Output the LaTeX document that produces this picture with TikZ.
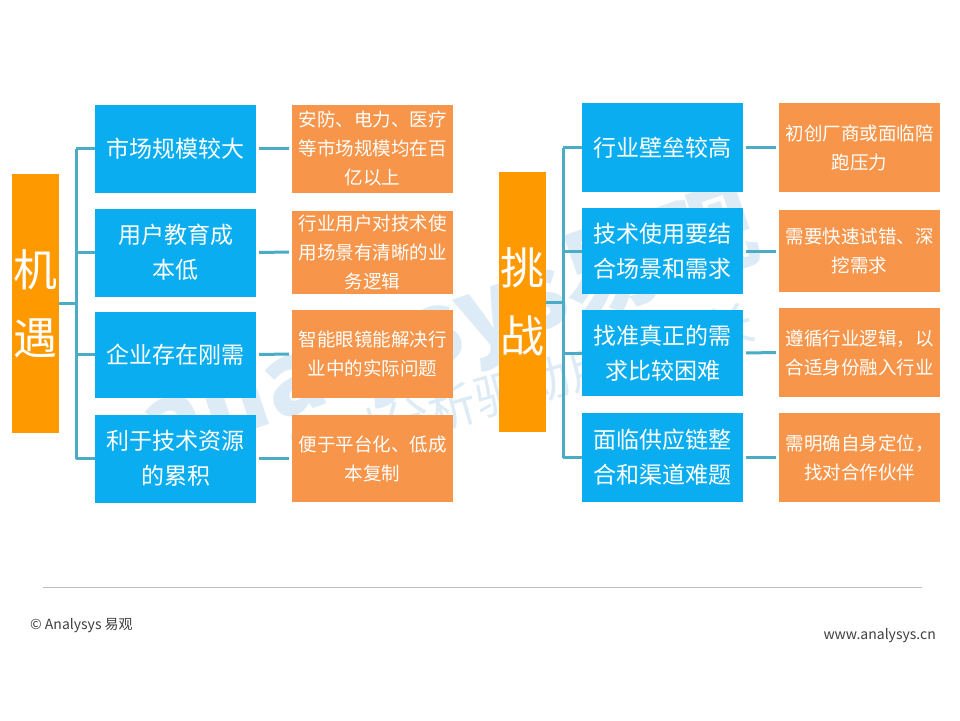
\documentclass[tikz,border=0pt]{standalone}
\usepackage{fontspec}
\newfontfamily\cjk{Noto Sans CJK SC}
\definecolor{cblue}{HTML}{0AAEF0}
\definecolor{corange}{HTML}{F7954A}
\definecolor{ctall}{HTML}{FF9900}
\definecolor{cline}{HTML}{4BACC6}
\definecolor{cwm}{HTML}{DDEBF6}
\definecolor{cfoot}{HTML}{404040}
\tikzset{
  tallbox/.style={fill=ctall, text=white, minimum width=47pt, minimum height=259pt, inner sep=0pt, align=center, font=\cjk\fontsize{44}{68}\selectfont},
  bluebox/.style={fill=cblue, text=white, minimum width=161pt, minimum height=88pt, inner sep=0pt, align=center, font=\cjk\fontsize{23}{35}\selectfont},
  orgbox/.style={fill=corange, text=white, minimum width=161pt, minimum height=88pt, inner sep=0pt, align=center, font=\cjk\fontsize{18.5}{29}\selectfont},
  conn/.style={draw=cline, line width=3pt},
  link/.style={conn, shorten <=3pt, shorten >=3pt},
  wm/.style={text=cwm, inner sep=0pt},
  foot/.style={text=cfoot, inner sep=0pt, font=\cjk\fontsize{14}{16}\selectfont}
}
\begin{document}
\begin{tikzpicture}[x=1pt,y=-1pt]
\fill[white] (0,0) rectangle (960,720);
\useasboundingbox (0,0) rectangle (960,720);
% watermark
\node[wm, rotate=19, font=\cjk\bfseries\fontsize{100}{100}\selectfont] (wm1) at (450,330) {analysys易观};
\node[wm, rotate=16, font=\cjk\fontsize{48}{48}\selectfont] (wm2) at (522,387) {实时分析驱动用户增长};
% left
\node[tallbox] (L) at (35.5,303.5) {机\\遇};
\node[bluebox] (lb1) at (175.5,148.5) {市场规模较大};
\node[bluebox] (lb2) at (175.5,252.5) {用户教育成\\本低};
\node[bluebox, minimum height=86pt] (lb3) at (175.5,354.5) {企业存在刚需};
\node[bluebox] (lb4) at (175.5,458.5) {利于技术资源\\的累积};
\node[orgbox] (lo1) at (372.5,148.5) {安防、电力、医疗\\等市场规模均在百\\亿以上};
\node[orgbox, minimum height=83pt] (lo2) at (372.5,252) {行业用户对技术使\\用场景有清晰的业\\务逻辑};
\node[orgbox] (lo3) at (372.5,354) {智能眼镜能解决行\\业中的实际问题};
\node[orgbox, minimum height=87pt] (lo4) at (372.5,458.5) {便于平台化、低成\\本复制};
\draw[conn] (L.east) -- ++(17,0) coordinate (lj);
\draw[conn] (lj |- lb1.west) -- (lj |- lb4.west);
\foreach \i in {1,...,4} {
  \draw[conn] (lj |- lb\i.west) -- (lb\i.west);
  \draw[link] (lb\i.east) -- (lo\i.west);
}
% right
\node[tallbox, minimum height=260pt] (R) at (522.5,302) {挑\\战};
\node[bluebox, minimum height=89pt] (rb1) at (662.5,147.5) {行业壁垒较高};
\node[bluebox, minimum height=86pt] (rb2) at (662.5,251) {技术使用要结\\合场景和需求};
\node[bluebox, minimum height=86pt] (rb3) at (662.5,353) {找准真正的需\\求比较困难};
\node[bluebox, minimum height=89pt] (rb4) at (662.5,457.5) {面临供应链整\\合和渠道难题};
\node[orgbox, minimum height=89pt] (ro1) at (859.5,147.5) {初创厂商或面临陪\\跑压力};
\node[orgbox, minimum height=82pt] (ro2) at (859.5,251) {需要快速试错、深\\挖需求};
\node[orgbox, minimum height=89pt] (ro3) at (859.5,352.5) {遵循行业逻辑，以\\合适身份融入行业};
\node[orgbox, minimum height=89pt] (ro4) at (859.5,457.5) {需明确自身定位，\\找对合作伙伴};
\draw[conn] (R.east) -- ++(17,0) coordinate (rj);
\draw[conn] (rj |- rb1.west) -- (rj |- rb4.west);
\foreach \i in {1,...,4} {
  \draw[conn] (rj |- rb\i.west) -- (rb\i.west);
  \draw[link] (rb\i.east) -- (ro\i.west);
}
% footer
\coordinate (fl1) at (43,587);
\coordinate (fl2) at (922,587);
\draw[draw=black!25, line width=1pt] (fl1) -- (fl2);
\node[foot, anchor=west] (f1) at (30,626) {© Analysys 易观};
\node[foot, anchor=east] (f2) at (936,636) {www.analysys.cn};
\end{tikzpicture}
\end{document}
